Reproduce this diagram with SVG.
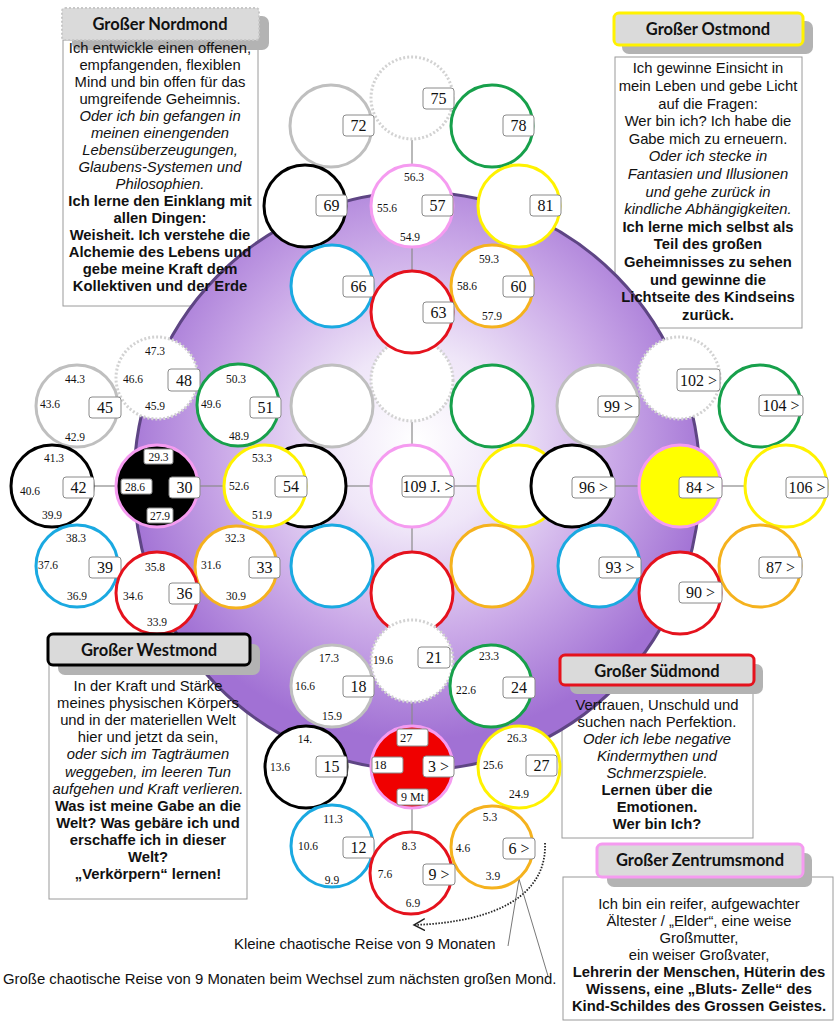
<svg xmlns="http://www.w3.org/2000/svg" width="834" height="1023" viewBox="0 0 834 1023">
<defs>
<radialGradient id="pg" cx="417" cy="440" r="300" gradientUnits="userSpaceOnUse">
<stop offset="0" stop-color="#ffffff"/>
<stop offset="0.3" stop-color="#efe6f8"/>
<stop offset="0.65" stop-color="#cbaae8"/>
<stop offset="1" stop-color="#a171d4"/>
</radialGradient>
<marker id="ah" markerUnits="userSpaceOnUse" markerWidth="14" markerHeight="14" refX="11" refY="6" orient="auto">
<path d="M0,0 L11,6 L0,12" fill="none" stroke="#222" stroke-width="1.5"/>
</marker>
<style>
.c{fill:#fff;stroke-width:3}
.pk{stroke:#f59bf0}.gy{stroke:#bfbfbf}.gn{stroke:#17a04b}.bk{stroke:#000}.yw{stroke:#fff200}.bl{stroke:#1aa9e1}.or{stroke:#f5b21e}.rd{stroke:#e5121d}
.dt{stroke:#d2d2d2;stroke-dasharray:2 2;stroke-width:3}
.lb{fill:#fff;stroke:#8a8a8a;stroke-width:1}
.n{font-family:"Liberation Serif",serif;font-size:16px;text-anchor:middle;fill:#111}
.s{font-family:"Liberation Serif",serif;font-size:11.5px;text-anchor:middle;fill:#111}
.tx{font-family:"Liberation Sans",Arial,sans-serif;font-size:14.8px;text-anchor:middle;fill:#111}
.i{font-style:italic}.b{font-weight:bold}
.hd{font-family:Lato,"Liberation Sans",sans-serif;font-weight:bold;font-size:16.5px;text-anchor:middle;fill:#111}
.hb{fill:#dadada}
.sh{fill:#b3b3b3}
.bx{fill:none;stroke:#9a9a9a;stroke-width:1}
.cn line{stroke:#8a8a8a;stroke-width:1.2}
.ft{font-family:"Liberation Sans",Arial,sans-serif;font-size:14.9px;fill:#111}
</style>
</defs>
<rect width="834" height="1023" fill="#fff"/>

<!-- text box bodies (behind the purple disc) -->
<g id="bodies">
<rect class="bx" x="63" y="40" width="195" height="266"/>
<rect class="bx" x="615" y="57" width="187" height="271"/>
<rect class="bx" x="49" y="665" width="198" height="234"/>
<rect class="bx" x="562" y="685" width="191" height="153"/>
<rect class="bx" x="563" y="877" width="270" height="143"/>
</g>

<g id="purple">
<ellipse cx="417" cy="481" rx="283" ry="289" fill="url(#pg)" stroke="#5e4584" stroke-width="3"/>
</g>

<g class="cn" id="connectors">
<line x1="412" y1="422" x2="412" y2="444"/>
<line x1="412" y1="528" x2="412" y2="551"/>
<line x1="347" y1="486" x2="370" y2="486"/>
<line x1="454" y1="486" x2="477" y2="486"/>
<line x1="412" y1="140" x2="412" y2="164"/>
<line x1="412" y1="248" x2="412" y2="270"/>
<line x1="94" y1="486" x2="115" y2="486"/>
<line x1="199" y1="486" x2="223" y2="486"/>
<line x1="614" y1="486" x2="638" y2="486"/>
<line x1="722" y1="486" x2="744" y2="486"/>
<line x1="412" y1="703" x2="412" y2="725"/>
<line x1="412" y1="809" x2="412" y2="831"/>
<path d="M545,843 C547,893 500,922 414,925" fill="none" stroke="#222" stroke-width="1.8" stroke-dasharray="1.5 1.5" marker-end="url(#ah)"/>
<line x1="519" y1="879" x2="508" y2="946" style="stroke:#555;stroke-width:0.8"/>
<line x1="519" y1="879" x2="548" y2="976" style="stroke:#555;stroke-width:0.8"/>
</g>

<!-- Center flower -->
<g id="flower-center">
<g id="c-top"><circle class="c dt" cx="412" cy="380" r="41"/></g>
<g id="c-ul"><circle class="c gy" cx="332" cy="406" r="41"/></g>
<g id="c-ur"><circle class="c gn" cx="492" cy="406" r="41"/></g>
<g id="c-l"><circle class="c bk" cx="305" cy="486" r="41"/></g>
<g id="c-r"><circle class="c yw" cx="519" cy="486" r="41"/></g>
<g id="c-ll"><circle class="c bl" cx="332" cy="566" r="41"/></g>
<g id="c-lr"><circle class="c or" cx="492" cy="566" r="41"/></g>
<g id="c-b"><circle class="c rd" cx="412" cy="593" r="41"/></g>
<g id="n109"><circle class="c pk" cx="412" cy="486" r="41"/><rect class="lb" x="402" y="476" width="52" height="21" rx="3"/><text class="n" x="428" y="492">109 J. &gt;</text></g>
</g>

<!-- North flower -->
<g id="flower-north">
<g id="n75"><circle class="c dt" cx="412" cy="98" r="41"/><rect class="lb" x="423" y="88" width="31" height="21" rx="3"/><text class="n" x="438.5" y="104">75</text></g>
<g id="n72"><circle class="c gy" cx="331" cy="126" r="41"/><rect class="lb" x="343" y="115" width="31" height="21" rx="3"/><text class="n" x="358.5" y="131">72</text></g>
<g id="n78"><circle class="c gn" cx="492" cy="126" r="41"/><rect class="lb" x="503" y="115" width="31" height="21" rx="3"/><text class="n" x="518.5" y="131">78</text></g>
<g id="n69"><circle class="c bk" cx="305" cy="206" r="41"/><rect class="lb" x="316" y="195" width="31" height="21" rx="3"/><text class="n" x="331.5" y="211">69</text></g>
<g id="n81"><circle class="c yw" cx="519" cy="206" r="41"/><rect class="lb" x="530" y="195" width="31" height="21" rx="3"/><text class="n" x="545.5" y="211">81</text></g>
<g id="n66"><circle class="c bl" cx="332" cy="286" r="41"/><rect class="lb" x="343" y="276" width="31" height="21" rx="3"/><text class="n" x="358.5" y="292">66</text></g>
<g id="n60"><circle class="c or" cx="492" cy="286" r="41"/><rect class="lb" x="503" y="276" width="31" height="21" rx="3"/><text class="n" x="518.5" y="292">60</text><text class="s" x="489" y="263">59.3</text><text class="s" x="467" y="290">58.6</text><text class="s" x="492" y="320">57.9</text></g>
<g id="n63"><circle class="c rd" cx="412" cy="312" r="41"/><rect class="lb" x="423" y="302" width="31" height="21" rx="3"/><text class="n" x="438.5" y="318">63</text></g>
<g id="n57"><circle class="c pk" cx="412" cy="206" r="41"/><rect class="lb" x="422" y="195" width="31" height="21" rx="3"/><text class="n" x="437.5" y="211">57</text><text class="s" x="414" y="181">56.3</text><text class="s" x="387" y="212">55.6</text><text class="s" x="410" y="241">54.9</text></g>
</g>

<!-- West flower -->
<g id="flower-west">
<g id="n48"><circle class="c dt" cx="157" cy="378" r="41"/><rect class="lb" x="168" y="369" width="32" height="22" rx="3"/><text class="n" x="184" y="386">48</text><text class="s" x="155" y="355">47.3</text><text class="s" x="133" y="383">46.6</text><text class="s" x="155" y="410">45.9</text></g>
<g id="n45"><circle class="c gy" cx="77" cy="406" r="41"/><rect class="lb" x="89" y="397" width="32" height="21" rx="3"/><text class="n" x="105" y="413">45</text><text class="s" x="75" y="383">44.3</text><text class="s" x="50" y="408">43.6</text><text class="s" x="75" y="441">42.9</text></g>
<g id="n51"><circle class="c gn" cx="238" cy="405" r="41"/><rect class="lb" x="250" y="397" width="31" height="21" rx="3"/><text class="n" x="265.5" y="413">51</text><text class="s" x="236" y="383">50.3</text><text class="s" x="211" y="408">49.6</text><text class="s" x="239" y="440">48.9</text></g>
<g id="n42"><circle class="c bk" cx="52" cy="486" r="41"/><rect class="lb" x="63" y="477" width="31" height="21" rx="3"/><text class="n" x="78.5" y="493">42</text><text class="s" x="54" y="462">41.3</text><text class="s" x="30" y="495">40.6</text><text class="s" x="52" y="519">39.9</text></g>
<g id="n54"><circle class="c yw" cx="265" cy="486" r="41"/><rect class="lb" x="275" y="476" width="32" height="21" rx="3"/><text class="n" x="291" y="492">54</text><text class="s" x="262" y="462">53.3</text><text class="s" x="239" y="490">52.6</text><text class="s" x="262" y="519">51.9</text></g>
<g id="n39"><circle class="c bl" cx="77" cy="566" r="41"/><rect class="lb" x="89" y="557" width="32" height="21" rx="3"/><text class="n" x="105" y="573">39</text><text class="s" x="76" y="542">38.3</text><text class="s" x="48" y="569">37.6</text><text class="s" x="77" y="600">36.9</text></g>
<g id="n33"><circle class="c or" cx="236" cy="567" r="41"/><rect class="lb" x="249" y="557" width="31" height="21" rx="3"/><text class="n" x="264.5" y="573">33</text><text class="s" x="235" y="542">32.3</text><text class="s" x="211" y="569">31.6</text><text class="s" x="236" y="600">30.9</text></g>
<g id="n36"><circle class="c rd" cx="157" cy="593" r="41"/><rect class="lb" x="169" y="583" width="31" height="21" rx="3"/><text class="n" x="184.5" y="599">36</text><text class="s" x="155" y="571">35.8</text><text class="s" x="133" y="600">34.6</text><text class="s" x="157" y="626">33.9</text></g>
<g id="n30"><circle class="c pk" cx="157" cy="486" r="41" style="fill:#000"/>
<rect class="lb" x="144" y="449" width="29" height="15" rx="2"/><text class="s" x="158.5" y="460.5">29.3</text>
<rect class="lb" x="121" y="479" width="31" height="15" rx="2"/><text class="s" x="135" y="490.5">28.6</text>
<rect class="lb" x="169" y="477" width="31" height="21" rx="3"/><text class="n" x="184.5" y="493">30</text>
<rect class="lb" x="147" y="508" width="26" height="15" rx="2"/><text class="s" x="160" y="519.5">27.9</text></g>
</g>

<!-- East flower -->
<g id="flower-east">
<g id="n102"><circle class="c dt" cx="679" cy="378" r="41"/><rect class="lb" x="677" y="369" width="43" height="22" rx="3"/><text class="n" x="698.5" y="386">102 &gt;</text></g>
<g id="n99"><circle class="c gy" cx="598" cy="406" r="41"/><rect class="lb" x="598" y="396" width="41" height="21" rx="3"/><text class="n" x="618.5" y="412">99 &gt;</text></g>
<g id="n104"><circle class="c gn" cx="760" cy="406" r="41"/><rect class="lb" x="759" y="395" width="44" height="21" rx="3"/><text class="n" x="781" y="411">104 &gt;</text></g>
<g id="n96"><circle class="c bk" cx="572" cy="486" r="41"/><rect class="lb" x="572" y="477" width="43" height="21" rx="3"/><text class="n" x="593.5" y="493">96 &gt;</text></g>
<g id="n106"><circle class="c yw" cx="786" cy="486" r="41"/><rect class="lb" x="786" y="477" width="42" height="21" rx="3"/><text class="n" x="807" y="493">106 &gt;</text></g>
<g id="n93"><circle class="c bl" cx="599" cy="566" r="41"/><rect class="lb" x="599" y="557" width="42" height="21" rx="3"/><text class="n" x="620" y="573">93 &gt;</text></g>
<g id="n87"><circle class="c or" cx="760" cy="566" r="41"/><rect class="lb" x="759" y="557" width="43" height="21" rx="3"/><text class="n" x="780.5" y="573">87 &gt;</text></g>
<g id="n90"><circle class="c rd" cx="680" cy="593" r="41"/><rect class="lb" x="679" y="582" width="43" height="21" rx="3"/><text class="n" x="700.5" y="598">90 &gt;</text></g>
<g id="n84"><circle class="c pk" cx="680" cy="486" r="41" style="fill:#ffff00"/><rect class="lb" x="679" y="477" width="43" height="21" rx="3"/><text class="n" x="700.5" y="493">84 &gt;</text></g>
</g>

<!-- South flower -->
<g id="flower-south">
<g id="n21"><circle class="c dt" cx="412" cy="661" r="41"/><rect class="lb" x="418" y="647" width="32" height="21" rx="3"/><text class="n" x="434" y="663">21</text><text class="s" x="383" y="664">19.6</text></g>
<g id="n18"><circle class="c gy" cx="332" cy="686" r="41"/><rect class="lb" x="343" y="676" width="31" height="21" rx="3"/><text class="n" x="358.5" y="692">18</text><text class="s" x="329" y="662">17.3</text><text class="s" x="305" y="690">16.6</text><text class="s" x="332" y="720">15.9</text></g>
<g id="n24"><circle class="c gn" cx="491" cy="686" r="41"/><rect class="lb" x="503" y="677" width="32" height="21" rx="3"/><text class="n" x="519" y="693">24</text><text class="s" x="489" y="660">23.3</text><text class="s" x="466" y="694">22.6</text></g>
<g id="n15"><circle class="c bk" cx="306" cy="767" r="41"/><rect class="lb" x="316" y="756" width="31" height="21" rx="3"/><text class="n" x="331.5" y="772">15</text><text class="s" x="305" y="743">14.</text><text class="s" x="280" y="771">13.6</text></g>
<g id="n27"><circle class="c yw" cx="519" cy="767" r="41"/><rect class="lb" x="526" y="755" width="31" height="21" rx="3"/><text class="n" x="541.5" y="771">27</text><text class="s" x="517" y="742">26.3</text><text class="s" x="493" y="769">25.6</text><text class="s" x="519" y="798">24.9</text></g>
<g id="n12"><circle class="c bl" cx="332" cy="846" r="41"/><rect class="lb" x="343" y="837" width="31" height="21" rx="3"/><text class="n" x="358.5" y="853">12</text><text class="s" x="333" y="823">11.3</text><text class="s" x="308" y="850">10.6</text><text class="s" x="332" y="884">9.9</text></g>
<g id="n6"><circle class="c or" cx="492" cy="847" r="41"/><rect class="lb" x="503" y="838" width="32" height="21" rx="3"/><text class="n" x="519" y="854">6 &gt;</text><text class="s" x="490" y="821">5.3</text><text class="s" x="463" y="852">4.6</text><text class="s" x="493" y="880">3.9</text></g>
<g id="n9"><circle class="c rd" cx="411" cy="873" r="41"/><rect class="lb" x="423" y="864" width="32" height="21" rx="3"/><text class="n" x="439" y="880">9 &gt;</text><text class="s" x="409" y="850">8.3</text><text class="s" x="385" y="878">7.6</text><text class="s" x="413" y="907">6.9</text></g>
<g id="n3"><circle class="c pk" cx="412" cy="767" r="41" style="fill:#f00000"/>
<rect class="lb" x="397" y="729" width="31" height="17" rx="2"/><text class="s" x="400" y="742" style="text-anchor:start;font-size:12.5px">27</text>
<rect class="lb" x="372" y="757" width="31" height="16" rx="2"/><text class="s" x="374" y="769" style="text-anchor:start;font-size:12.5px">18</text>
<rect class="lb" x="423" y="756" width="31" height="21" rx="3"/><text class="n" x="438.5" y="772">3 &gt;</text>
<rect class="lb" x="397" y="789" width="31" height="16" rx="2"/><text class="s" x="412.5" y="801" style="font-size:12px">9 Mt</text></g>
</g>

<!-- Text panels -->
<g id="nordmond">
<rect class="sh" x="72" y="16" width="197" height="34" rx="7"/>
<rect class="hb" x="62" y="8" width="197" height="32" rx="3" stroke="#c8c8c8" stroke-width="2" stroke-dasharray="2 2"/>
<text class="hd" x="160" y="30">Großer Nordmond</text>
<text class="tx" x="160" y="53">Ich entwickle einen offenen,</text>
<text class="tx" x="160" y="70">empfangenden, flexiblen</text>
<text class="tx" x="160" y="87">Mind und bin offen für das</text>
<text class="tx" x="160" y="104">umgreifende Geheimnis.</text>
<text class="tx i" x="160" y="121">Oder ich bin gefangen in</text>
<text class="tx i" x="160" y="138">meinen einengenden</text>
<text class="tx i" x="160" y="155">Lebensüberzeugungen,</text>
<text class="tx i" x="160" y="172">Glaubens-Systemen und</text>
<text class="tx i" x="160" y="189">Philosophien.</text>
<text class="tx b" x="160" y="206">Ich lerne den Einklang mit</text>
<text class="tx b" x="160" y="223">allen Dingen:</text>
<text class="tx b" x="160" y="240">Weisheit. Ich verstehe die</text>
<text class="tx b" x="160" y="257">Alchemie des Lebens und</text>
<text class="tx b" x="160" y="274">gebe meine Kraft dem</text>
<text class="tx b" x="160" y="291">Kollektiven und der Erde</text>
</g>

<g id="ostmond">
<rect class="sh" x="622" y="21" width="191" height="33" rx="7"/>
<rect class="hb" x="614" y="13" width="189" height="32" rx="5" stroke="#fff200" stroke-width="3"/>
<text class="hd" x="708" y="35">Großer Ostmond</text>
<text class="tx" x="708" y="73">Ich gewinne Einsicht in</text>
<text class="tx" x="708" y="91">mein Leben und gebe Licht</text>
<text class="tx" x="708" y="109">auf die Fragen:</text>
<text class="tx" x="708" y="126">Wer bin ich? Ich habe die</text>
<text class="tx" x="708" y="144">Gabe mich zu erneuern.</text>
<text class="tx i" x="708" y="161">Oder ich stecke in</text>
<text class="tx i" x="708" y="179">Fantasien und Illusionen</text>
<text class="tx i" x="708" y="197">und gehe zurück in</text>
<text class="tx i" x="708" y="214">kindliche Abhängigkeiten.</text>
<text class="tx b" x="708" y="232">Ich lerne mich selbst als</text>
<text class="tx b" x="708" y="249">Teil des großen</text>
<text class="tx b" x="708" y="267">Geheimnisses zu sehen</text>
<text class="tx b" x="708" y="285">und gewinne die</text>
<text class="tx b" x="708" y="302">Lichtseite des Kindseins</text>
<text class="tx b" x="708" y="320">zurück.</text>
</g>

<g id="westmond">
<rect class="sh" x="58" y="644" width="202" height="31" rx="7"/>
<rect class="hb" x="48" y="634" width="202" height="31" rx="5" stroke="#000" stroke-width="3"/>
<text class="hd" x="149" y="656">Großer Westmond</text>
<text class="tx" x="148" y="691">In der Kraft und Stärke</text>
<text class="tx" x="148" y="708">meines physischen Körpers</text>
<text class="tx" x="148" y="725">und in der materiellen Welt</text>
<text class="tx" x="148" y="742">hier und jetzt da sein,</text>
<text class="tx i" x="148" y="759">oder sich im Tagträumen</text>
<text class="tx i" x="148" y="777">weggeben, im leeren Tun</text>
<text class="tx i" x="148" y="794">aufgehen und Kraft verlieren.</text>
<text class="tx b" x="148" y="811">Was ist meine Gabe an die</text>
<text class="tx b" x="148" y="828">Welt? Was gebäre ich und</text>
<text class="tx b" x="148" y="845">erschaffe ich in dieser</text>
<text class="tx b" x="148" y="862">Welt?</text>
<text class="tx b" x="148" y="879">„Verkörpern“ lernen!</text>
</g>

<g id="suedmond">
<rect class="sh" x="570" y="664" width="193" height="30" rx="7"/>
<rect class="hb" x="560" y="655" width="194" height="30" rx="5" stroke="#e5121d" stroke-width="3"/>
<text class="hd" x="657" y="677">Großer Südmond</text>
<text class="tx" x="657" y="710">Vertrauen, Unschuld und</text>
<text class="tx" x="657" y="727">suchen nach Perfektion.</text>
<text class="tx i" x="657" y="744">Oder ich lebe negative</text>
<text class="tx i" x="657" y="761">Kindermythen und</text>
<text class="tx i" x="657" y="778">Schmerzspiele.</text>
<text class="tx b" x="657" y="795">Lernen über die</text>
<text class="tx b" x="657" y="812">Emotionen.</text>
<text class="tx b" x="657" y="829">Wer bin Ich?</text>
</g>

<g id="zentrumsmond">
<rect class="sh" x="607" y="853" width="205" height="34" rx="7"/>
<rect class="hb" x="597" y="844" width="206" height="33" rx="5" stroke="#f59bf0" stroke-width="3"/>
<text class="hd" x="700" y="866">Großer Zentrumsmond</text>
<text class="tx" x="699" y="909">Ich bin ein reifer, aufgewachter</text>
<text class="tx" x="699" y="926">Ältester / „Elder“, eine weise</text>
<text class="tx" x="699" y="943">Großmutter,</text>
<text class="tx" x="699" y="960">ein weiser Großvater,</text>
<text class="tx b" x="699" y="977">Lehrerin der Menschen, Hüterin des</text>
<text class="tx b" x="699" y="994">Wissens, eine „Bluts- Zelle“ des</text>
<text class="tx b" x="699" y="1011">Kind-Schildes des Grossen Geistes.</text>
</g>

<g id="captions">
<text class="ft" x="234" y="949">Kleine chaotische Reise von 9 Monaten</text>
<text class="ft" x="3" y="984">Große chaotische Reise von 9 Monaten beim Wechsel zum nächsten großen Mond.</text>
</g>
</svg>
